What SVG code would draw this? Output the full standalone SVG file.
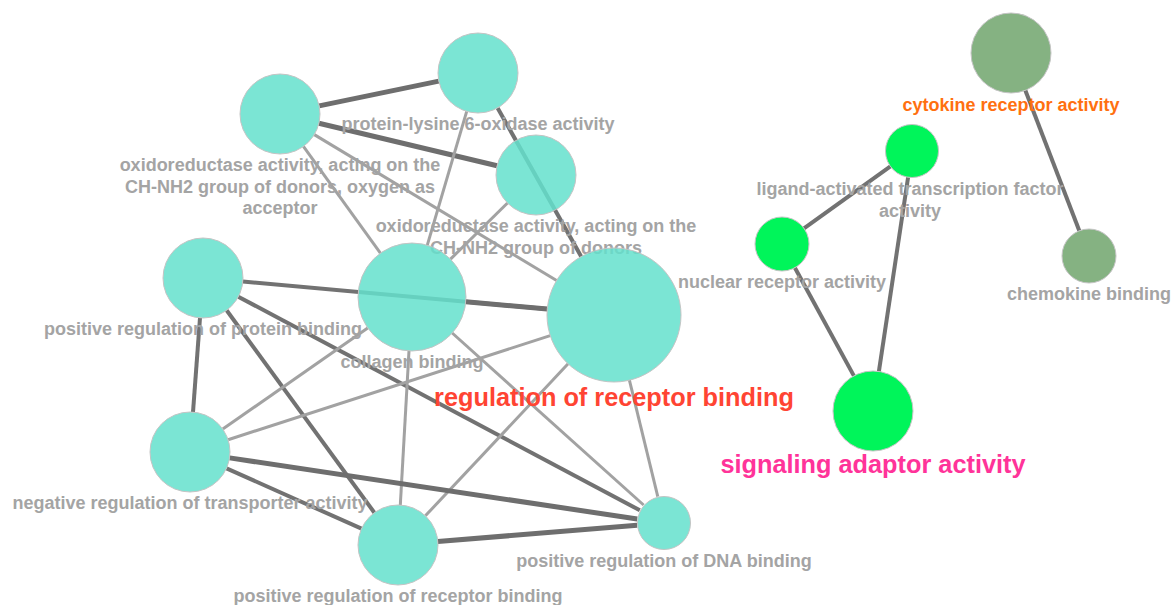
<svg xmlns="http://www.w3.org/2000/svg" width="1173" height="605" viewBox="0 0 1173 605">
  <style>
    .edge { fill: none; stroke-linecap: butt; }
    .dark { stroke: #727272; stroke-width: 4; }
    .thick { stroke: #6e6e6e; stroke-width: 5; }
    .light { stroke: #a2a2a2; stroke-width: 3; }
    .node circle { stroke: #c4c4c4; stroke-width: 1; }
    .go circle { fill: #64e1cc; fill-opacity: 0.85; }
    .nr circle { fill: #00f55a; }
    .ck circle { fill: #85b282; }
    text { font-family: "Liberation Sans", Arial, sans-serif; font-weight: bold; text-anchor: middle; }
    .lbl { font-size: 18px; fill: #a4a4a4; }
    .big { font-size: 25.3px; }
  </style>

  <!-- connectors, trimmed at node borders -->
  <g id="edges" class="edge">
    <line class="thick" x1="319.2" y1="105.9" x2="438.8" y2="81.1"/>
    <line class="thick" x1="318.9" y1="123.3" x2="497.1" y2="165.7"/>
    <line class="light" x1="303.4" y1="146.4" x2="380.4" y2="253.2"/>
    <line class="light" x1="314.3" y1="134.6" x2="556.6" y2="280.5"/>
    <line class="light" x1="466.7" y1="111.4" x2="427.3" y2="245.2"/>
    <line class="dark" x1="497.6" y1="107.9" x2="581.2" y2="256.6"/>
    <line class="light" x1="507.5" y1="203.0" x2="450.5" y2="259.1"/>
    <line class="dark" x1="242.8" y1="281.6" x2="547.3" y2="309.0"/>
    <line class="thick" x1="465.8" y1="301.8" x2="547.3" y2="309.1"/>
    <line class="dark" x1="200.0" y1="317.9" x2="193.0" y2="412.1"/>
    <line class="dark" x1="226.6" y1="310.3" x2="374.4" y2="512.7"/>
    <line class="dark" x1="238.3" y1="296.7" x2="639.8" y2="510.3"/>
    <line class="light" x1="367.7" y1="327.9" x2="222.8" y2="429.1"/>
    <line class="light" x1="550.2" y1="335.6" x2="228.1" y2="439.7"/>
    <line class="light" x1="409.0" y1="350.9" x2="400.3" y2="505.1"/>
    <line class="light" x1="452.2" y1="333.0" x2="643.6" y2="505.0"/>
    <line class="light" x1="568.1" y1="363.8" x2="425.4" y2="515.8"/>
    <line class="light" x1="629.4" y1="380.2" x2="657.8" y2="496.7"/>
    <line class="dark" x1="226.5" y1="468.3" x2="361.5" y2="528.7"/>
    <line class="thick" x1="229.6" y1="457.9" x2="637.3" y2="519.0"/>
    <line class="thick" x1="437.8" y1="541.5" x2="637.1" y2="525.3"/>
    <line class="dark" x1="890.4" y1="166.4" x2="804.0" y2="228.3"/>
    <line class="dark" x1="908.1" y1="177.2" x2="878.9" y2="371.4"/>
    <line class="dark" x1="794.9" y1="267.7" x2="853.9" y2="375.9"/>
    <line class="dark" x1="1025.3" y1="90.3" x2="1079.3" y2="230.8"/>
  </g>

  <!-- collagen / receptor binding cluster -->
  <g id="n-oxido-acceptor" class="node go">
    <circle cx="280" cy="114" r="40"/>
    <text class="lbl" x="280" y="171">oxidoreductase activity, acting on the</text>
    <text class="lbl" x="280" y="192.5">CH-NH2 group of donors, oxygen as</text>
    <text class="lbl" x="280" y="214">acceptor</text>
  </g>
  <g id="n-lysine-oxidase" class="node go">
    <circle cx="478" cy="73" r="40"/>
    <text class="lbl" x="478" y="130">protein-lysine 6-oxidase activity</text>
  </g>
  <g id="n-oxido-donors" class="node go">
    <circle cx="536" cy="175" r="40"/>
    <text class="lbl" x="536" y="232">oxidoreductase activity, acting on the</text>
    <text class="lbl" x="536" y="253.5">CH-NH2 group of donors</text>
  </g>
  <g id="n-pos-protein-binding" class="node go">
    <circle cx="203" cy="278" r="40"/>
    <text class="lbl" x="203" y="335">positive regulation of protein binding</text>
  </g>
  <g id="n-collagen-binding" class="node go">
    <circle cx="412" cy="297" r="54"/>
    <text class="lbl" x="412" y="368">collagen binding</text>
  </g>
  <g id="n-receptor-binding" class="node go">
    <circle cx="614" cy="315" r="67"/>
    <text class="big" x="614" y="405.5" fill="#ff4433">regulation of receptor binding</text>
  </g>
  <g id="n-neg-transporter" class="node go">
    <circle cx="190" cy="452" r="40"/>
    <text class="lbl" x="190" y="509">negative regulation of transporter activity</text>
  </g>
  <g id="n-pos-receptor-binding" class="node go">
    <circle cx="398" cy="545" r="40"/>
    <text class="lbl" x="398" y="602">positive regulation of receptor binding</text>
  </g>
  <g id="n-pos-dna-binding" class="node go">
    <circle cx="664" cy="523" r="26.5"/>
    <text class="lbl" x="664" y="567">positive regulation of DNA binding</text>
  </g>

  <!-- nuclear receptor cluster -->
  <g id="n-ligand-tf" class="node nr">
    <circle cx="912" cy="151" r="26.5"/>
    <text class="lbl" x="910" y="195">ligand-activated transcription factor</text>
    <text class="lbl" x="910" y="216.5">activity</text>
  </g>
  <g id="n-nuclear-receptor" class="node nr">
    <circle cx="782" cy="244" r="27"/>
    <text class="lbl" x="782" y="288">nuclear receptor activity</text>
  </g>
  <g id="n-signaling-adaptor" class="node nr">
    <circle cx="873" cy="411" r="40"/>
    <text class="big" x="873" y="473" fill="#ff3399">signaling adaptor activity</text>
  </g>

  <!-- cytokine cluster -->
  <g id="n-cytokine-receptor" class="node ck">
    <circle cx="1011" cy="53" r="40"/>
    <text class="lbl" x="1011" y="111" style="fill:#ff7010">cytokine receptor activity</text>
  </g>
  <g id="n-chemokine-binding" class="node ck">
    <circle cx="1089" cy="256" r="27"/>
    <text class="lbl" x="1089" y="300">chemokine binding</text>
  </g>
</svg>
